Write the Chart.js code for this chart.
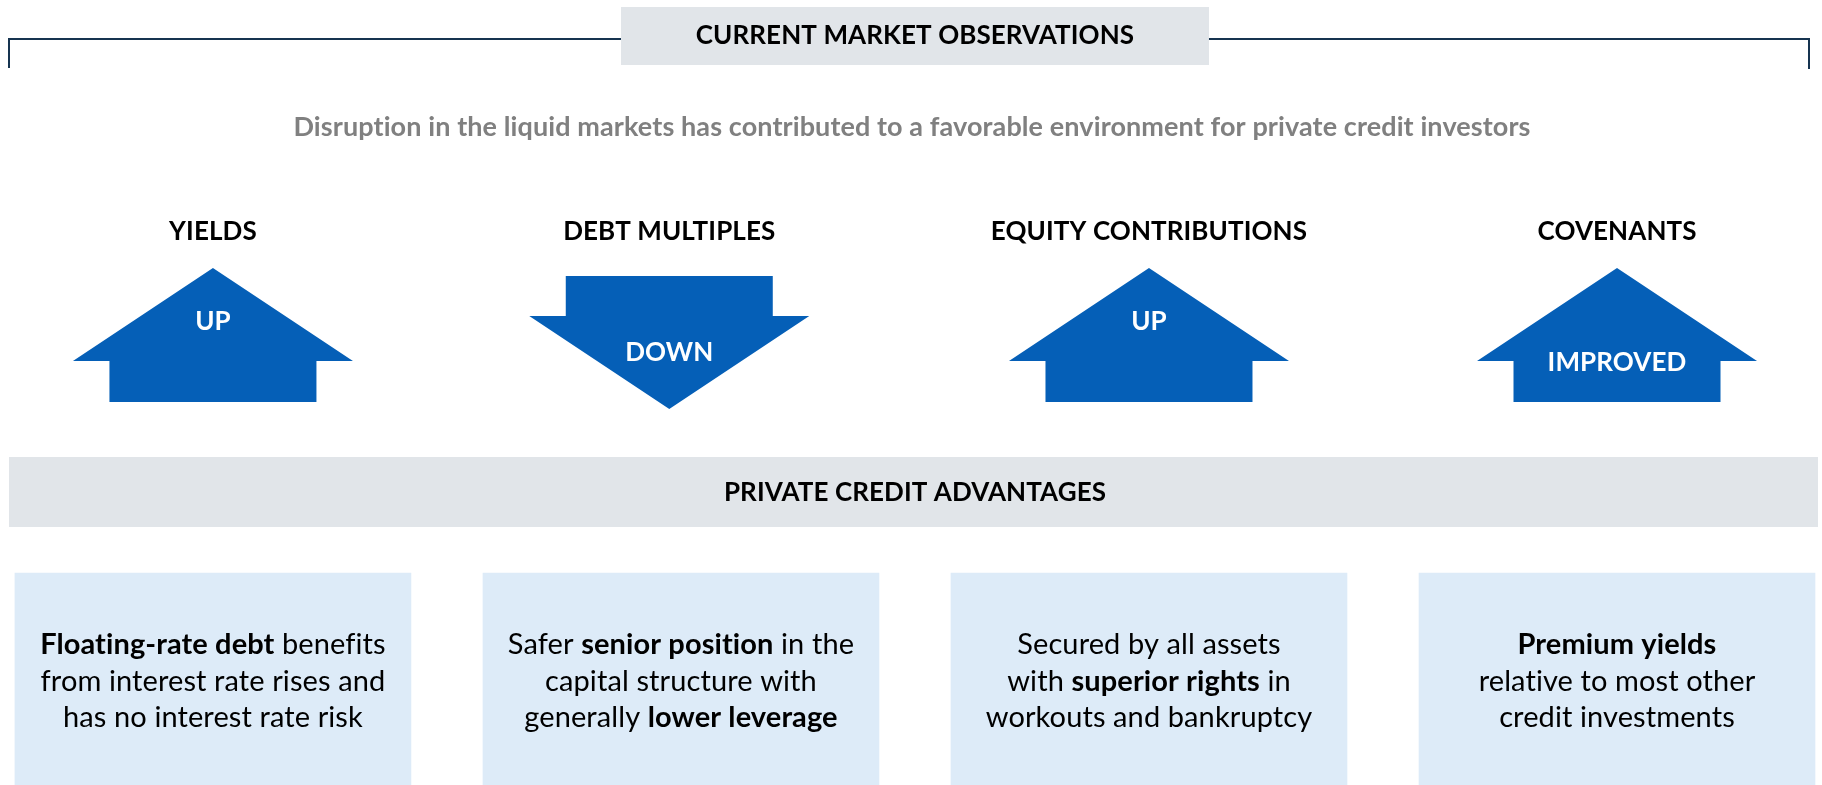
<!DOCTYPE html>
<html>
<head>
<meta charset="utf-8">
<script src="https://cdn.jsdelivr.net/npm/chart.js@4.4.1/dist/chart.umd.min.js"></script>
<style>
  html, body { margin: 0; padding: 0; background: #ffffff; }
  #wrap { width: 1822px; height: 785px; }
</style>
</head>
<body>
<div id="wrap"><canvas id="obsChart" width="1822" height="785"></canvas></div>
<script>
// ========== DATA ==========
const pageTitle = 'CURRENT MARKET OBSERVATIONS';
const subtitle = 'Disruption in the liquid markets has contributed to a favorable environment for private credit investors';
const sectionTitle = 'PRIVATE CREDIT ADVANTAGES';

const categories = ['YIELDS', 'DEBT MULTIPLES', 'EQUITY CONTRIBUTIONS', 'COVENANTS'];
const directions = ['up', 'down', 'up', 'up'];
const directionLabels = ['UP', 'DOWN', 'UP', 'IMPROVED'];

// **texto** = negrita
const advantages = [
    ['**Floating-rate debt** benefits', 'from interest rate rises and', 'has no interest rate risk'],
    ['Safer **senior position** in the', 'capital structure with', 'generally **lower leverage**'],
    ['Secured by all assets', 'with **superior rights** in', 'workouts and bankruptcy'],
    ['**Premium yields**', 'relative to most other', 'credit investments']
];

// ========== STYLE ==========
const FONT = 'Lato, "Open Sans", sans-serif';
const BLUE = '#055fb7';
const GREY_BAR = '#e1e5e9';
const BOX_BLUE = '#ddebf8';
const LINE_NAVY = '#163450';
const arrowOffset = [0, -0.025, 0, 0];   // la flecha 2 está un poco a la izquierda

/**
 * Dibuja una línea con segmentos en negrita, centrada en cx
 */
function drawRichLine(ctx, line, cx, cy, size) {
    const parts = line.split('**').map((t, i) => ({ text: t, bold: i % 2 === 1 })).filter(p => p.text);
    let total = 0;
    parts.forEach(p => {
        ctx.font = (p.bold ? 'bold ' : '') + size + 'px ' + FONT;
        p.w = ctx.measureText(p.text).width;
        total += p.w;
    });
    let x = cx - total / 2;
    ctx.textAlign = 'left';
    parts.forEach(p => {
        ctx.font = (p.bold ? 'bold ' : '') + size + 'px ' + FONT;
        ctx.fillText(p.text, x, cy);
        x += p.w;
    });
}

/**
 * Flecha arriba / abajo
 */
function drawArrow(ctx, cx, dir, Y) {
    const wingHalf = 140, shaftHalf = 103.5;
    ctx.beginPath();
    if (dir === 'up') {
        ctx.moveTo(cx, Y(268));
        ctx.lineTo(cx + wingHalf, Y(361));
        ctx.lineTo(cx + shaftHalf, Y(361));
        ctx.lineTo(cx + shaftHalf, Y(402));
        ctx.lineTo(cx - shaftHalf, Y(402));
        ctx.lineTo(cx - shaftHalf, Y(361));
        ctx.lineTo(cx - wingHalf, Y(361));
    } else {
        ctx.moveTo(cx - shaftHalf, Y(276));
        ctx.lineTo(cx + shaftHalf, Y(276));
        ctx.lineTo(cx + shaftHalf, Y(316));
        ctx.lineTo(cx + wingHalf, Y(316));
        ctx.lineTo(cx, Y(409));
        ctx.lineTo(cx - wingHalf, Y(316));
        ctx.lineTo(cx - shaftHalf, Y(316));
    }
    ctx.closePath();
    ctx.fillStyle = BLUE;
    ctx.fill();
}

const infographicPlugin = {
    id: 'infographic',
    beforeDatasetsDraw(chart) {
        const ctx = chart.ctx;
        const xs = chart.scales.x, ys = chart.scales.y;
        const X = v => xs.getPixelForValue(v);
        const Y = v => ys.getPixelForValue(v);
        const left = chart.chartArea.left, right = chart.chartArea.right;

        ctx.save();
        ctx.textBaseline = 'middle';
        ctx.letterSpacing = '0.1px';   // evita ligaduras de Lato

        // Corchete superior
        ctx.strokeStyle = LINE_NAVY;
        ctx.lineWidth = 2;
        ctx.beginPath();
        ctx.moveTo(left + 9, Y(68));
        ctx.lineTo(left + 9, Y(39));
        ctx.lineTo(right - 13, Y(39));
        ctx.lineTo(right - 13, Y(69));
        ctx.stroke();

        // Caja de título
        ctx.fillStyle = GREY_BAR;
        ctx.fillRect(X(1.5) - 294, Y(7), 588, Y(65) - Y(7));
        ctx.fillStyle = '#000000';
        ctx.textAlign = 'center';
        ctx.font = 'bold 26px ' + FONT;
        ctx.fillText(pageTitle, X(1.5), Y(36));

        // Subtítulo
        ctx.fillStyle = '#808080';
        ctx.font = 'bold 27px ' + FONT;
        ctx.fillText(subtitle, X(1.5) - 3, Y(127));

        // Categorías y flechas
        categories.forEach((cat, i) => {
            const cx = X(i + arrowOffset[i]);
            ctx.fillStyle = '#000000';
            ctx.textAlign = 'center';
            ctx.font = 'bold 26px ' + FONT;
            ctx.fillText(cat, cx, Y(232));

            drawArrow(ctx, cx, directions[i], Y);

            ctx.fillStyle = '#ffffff';
            ctx.font = 'bold 26px ' + FONT;
            const lbl = directionLabels[i];
            let ly;
            if (directions[i] === 'down') ly = 353;
            else ly = ctx.measureText(lbl).width > 120 ? 363 : 322;
            ctx.fillText(lbl, cx, Y(ly));
        });

        // Barra de sección
        ctx.fillStyle = GREY_BAR;
        ctx.fillRect(left + 9, Y(457), right - left - 13, Y(527) - Y(457));
        ctx.fillStyle = '#000000';
        ctx.textAlign = 'center';
        ctx.font = 'bold 26px ' + FONT;
        ctx.fillText(sectionTitle, X(1.5), Y(493));

        ctx.restore();
    },
    afterDatasetsDraw(chart) {
        const ctx = chart.ctx;
        const X = v => chart.scales.x.getPixelForValue(v);
        const Y = v => chart.scales.y.getPixelForValue(v);
        ctx.save();
        ctx.fillStyle = '#000000';
        ctx.textBaseline = 'middle';
        ctx.letterSpacing = '0.1px';
        advantages.forEach((lines, i) => {
            lines.forEach((line, j) => {
                drawRichLine(ctx, line, X(i), Y(645 + j * 36.5), 29);
            });
        });
        ctx.restore();
    }
};

const ctx = document.getElementById('obsChart');

new Chart(ctx, {
    type: 'bar',
    data: {
        datasets: [{
            label: sectionTitle,
            data: advantages.map((_, i) => ({ x: i, y: [573, 785] })),
            backgroundColor: BOX_BLUE,
            borderWidth: 0,
            barThickness: 396
        }]
    },
    options: {
        responsive: false,
        devicePixelRatio: 1,
        animation: false,
        layout: { padding: 0 },
        scales: {
            x: { type: 'linear', min: -0.455, max: 3.438, offset: false, grace: 0, display: false },
            y: { type: 'linear', min: 0, max: 785, reverse: true, display: false }
        },
        plugins: {
            legend: { display: false },
            tooltip: { enabled: false }
        }
    },
    plugins: [infographicPlugin]
});
</script>
</body>
</html>
